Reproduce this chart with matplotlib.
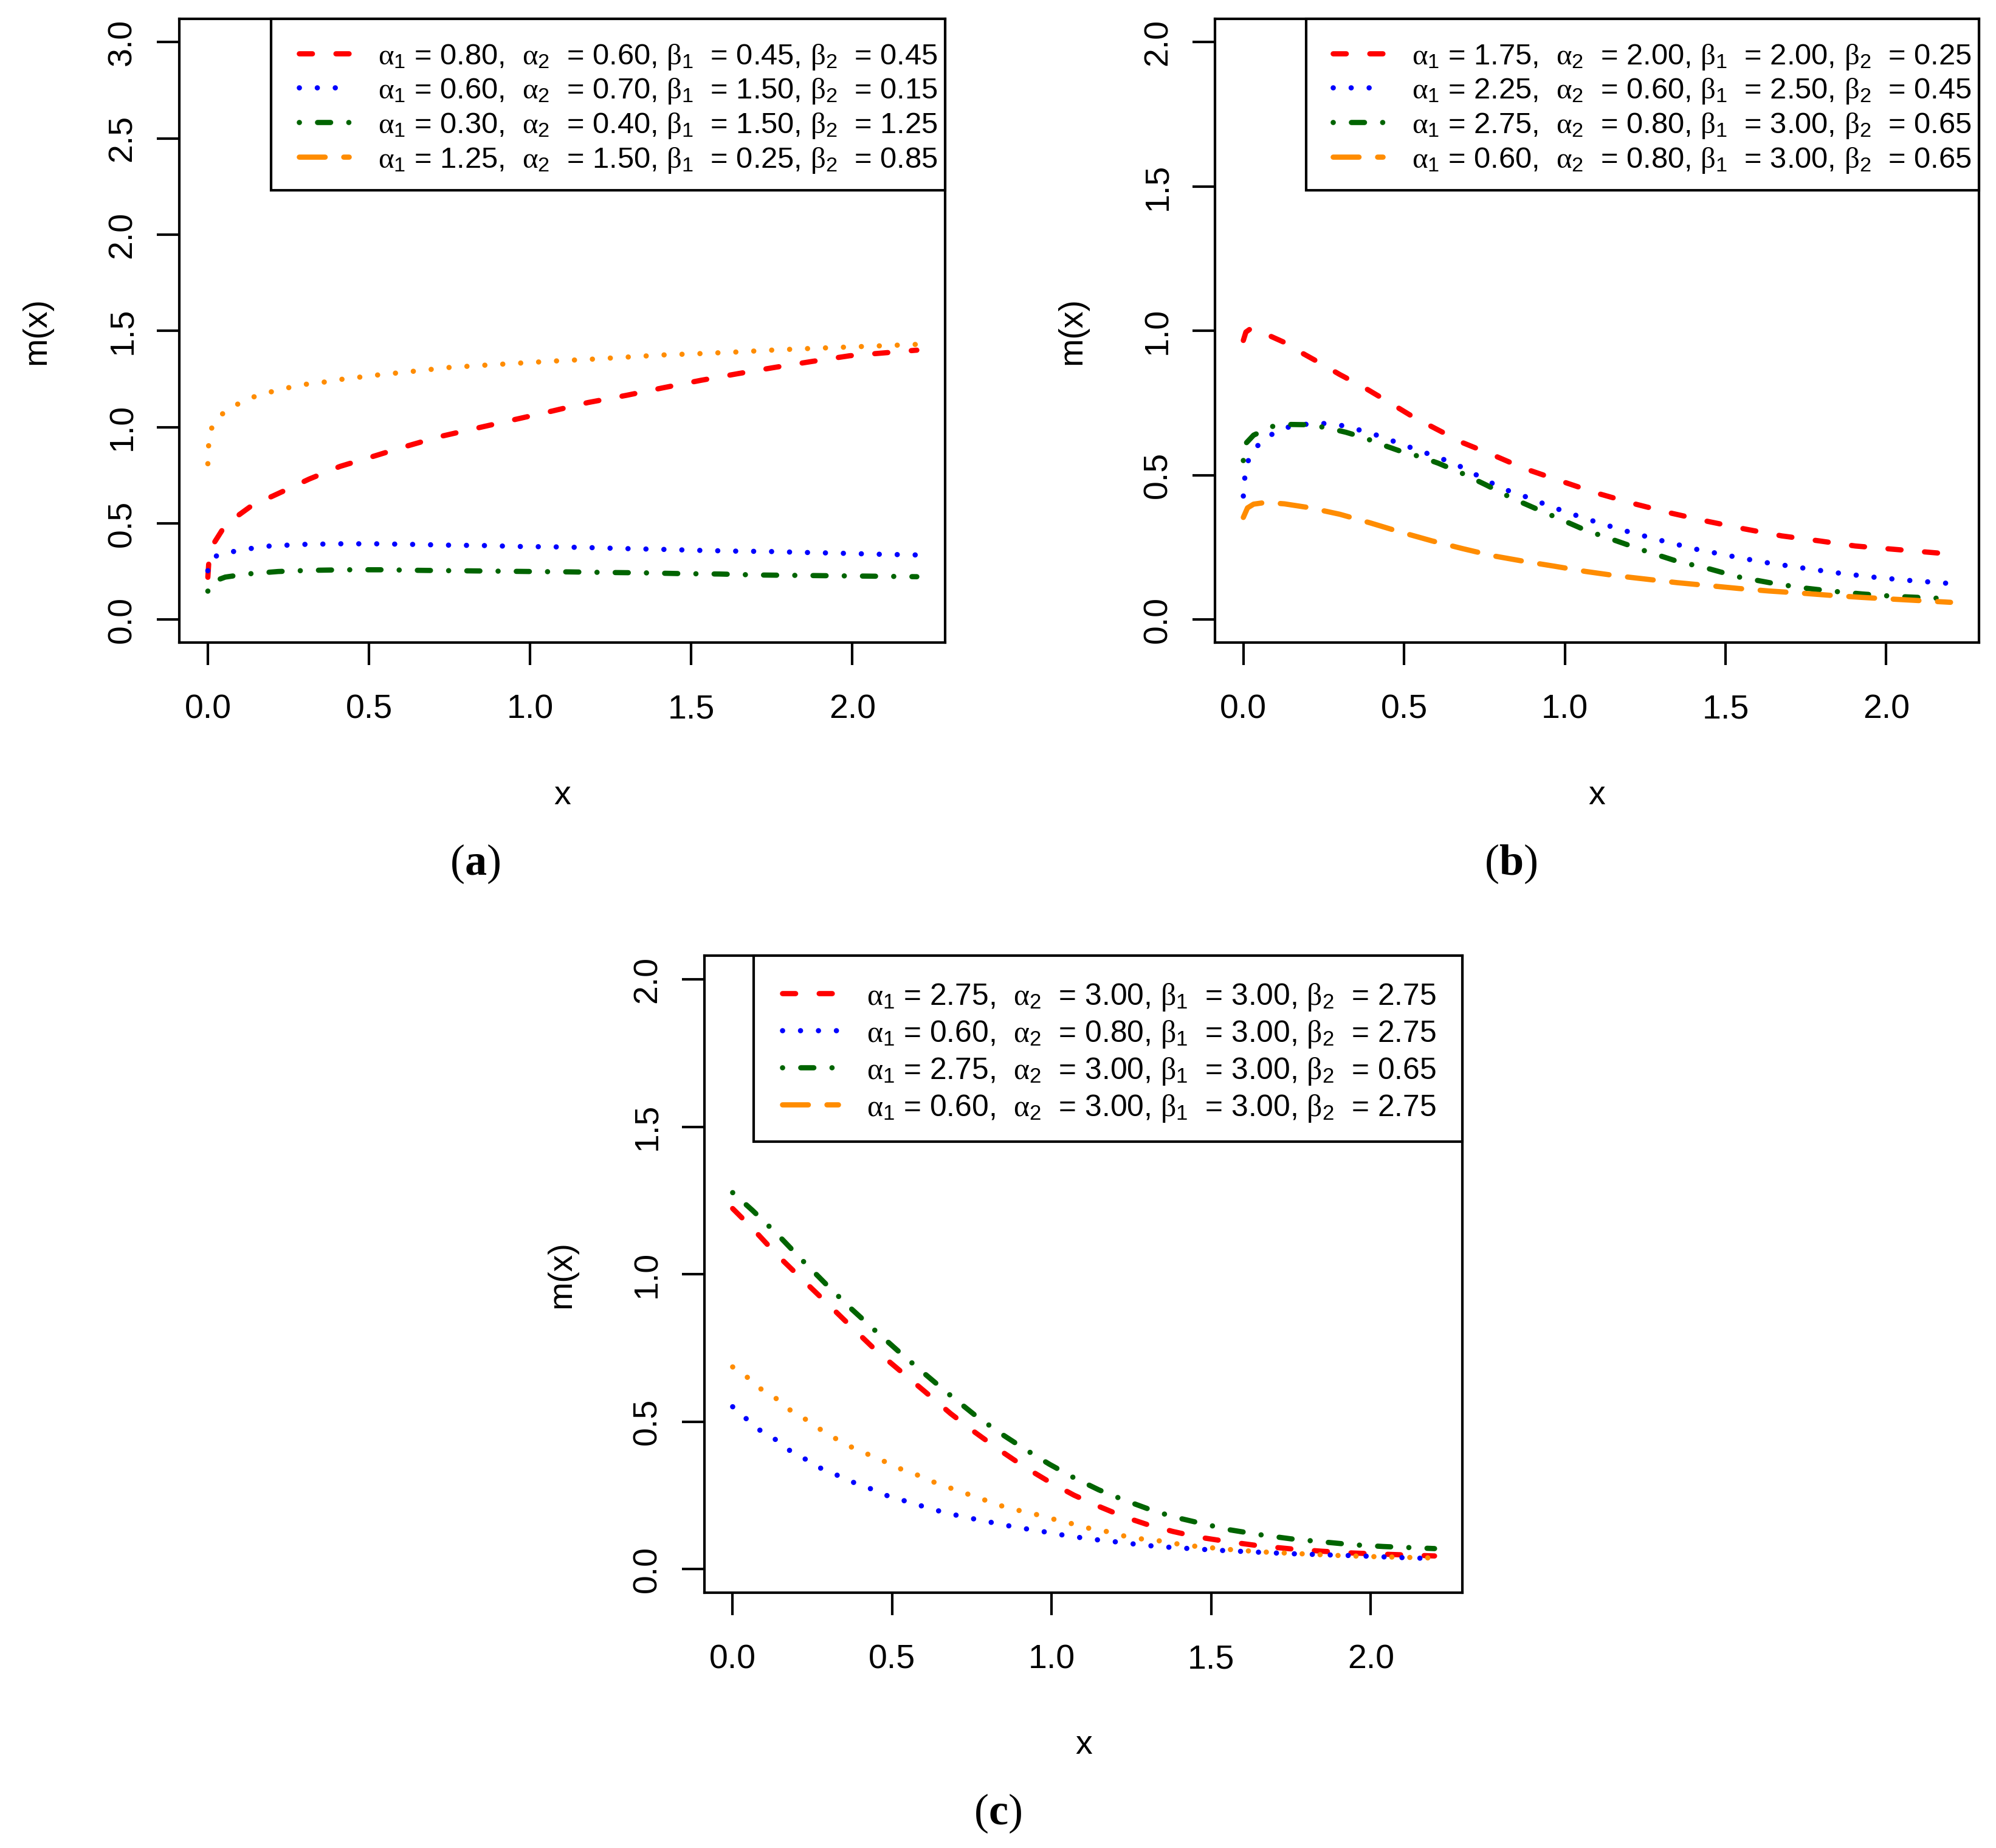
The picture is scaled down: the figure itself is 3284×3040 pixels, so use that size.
import matplotlib
matplotlib.use("Agg")
import matplotlib.pyplot as plt
from matplotlib.lines import Line2D
from matplotlib.patches import Rectangle

plt.rcParams['font.family'] = ['Liberation Sans', 'DejaVu Sans']
plt.rcParams['mathtext.fontset'] = 'custom'
plt.rcParams['mathtext.rm'] = 'Liberation Sans'
plt.rcParams['mathtext.it'] = 'Liberation Serif'
plt.rcParams['mathtext.bf'] = 'Liberation Serif:bold'

# ---------------- data ----------------
# panel (a)
a_red_x = [0, 0.003, 0.015, 0.044, 0.093, 0.14, 0.2, 0.257, 0.314, 0.41, 0.507, 0.604, 0.72, 0.835,
           0.951, 1.067, 1.18, 1.298, 1.414, 1.529, 1.645, 1.761, 1.877, 1.992, 2.2]
a_red_y = [0.22, 0.30, 0.387, 0.464, 0.54, 0.597, 0.641, 0.685, 0.73, 0.796, 0.845, 0.895, 0.951, 0.995,
           1.039, 1.083, 1.128, 1.165, 1.205, 1.243, 1.278, 1.311, 1.342, 1.371, 1.40]
a_blue_x = [0, 0.005, 0.015, 0.04, 0.08, 0.135, 0.19, 0.247, 0.3, 0.41, 0.52, 0.633, 0.744, 0.854, 0.966,
            1.076, 1.188, 1.298, 1.41, 1.52, 1.632, 1.742, 1.853, 1.963, 2.073, 2.2]
a_blue_y = [0.254, 0.29, 0.32, 0.343, 0.354, 0.37, 0.382, 0.387, 0.391, 0.394, 0.394, 0.391, 0.387, 0.385,
            0.38, 0.378, 0.374, 0.369, 0.365, 0.36, 0.356, 0.354, 0.349, 0.345, 0.34, 0.336]
a_green_x = [0, 0.02, 0.054, 0.12, 0.218, 0.314, 0.43, 0.546, 0.66, 0.777, 0.893, 1.0, 1.124, 1.24, 1.356,
             1.47, 1.587, 1.703, 1.82, 1.934, 2.05, 2.2]
a_green_y = [0.148, 0.2, 0.221, 0.237, 0.25, 0.256, 0.259, 0.259, 0.256, 0.254, 0.252, 0.25, 0.248, 0.245,
             0.243, 0.239, 0.237, 0.232, 0.23, 0.228, 0.226, 0.223]
a_orange_x = [0, 0.002, 0.012, 0.046, 0.093, 0.14, 0.195, 0.25, 0.305, 0.36, 0.417, 0.527, 0.636, 0.748,
              0.86, 0.97, 1.08, 1.19, 1.30, 1.41, 1.525, 1.635, 1.747, 1.857, 1.967, 2.08, 2.2]
a_orange_y = [0.81, 0.90, 0.995, 1.07, 1.12, 1.156, 1.183, 1.205, 1.223, 1.234, 1.249, 1.271, 1.29, 1.31,
              1.322, 1.333, 1.344, 1.353, 1.364, 1.375, 1.382, 1.39, 1.40, 1.408, 1.415, 1.422, 1.43]

# panel (b)
b_red_x = [0, 0.008, 0.023, 0.07, 0.128, 0.185, 0.243, 0.3, 0.376, 0.453, 0.53, 0.606, 0.682, 0.777, 0.873,
           0.988, 1.1, 1.217, 1.33, 1.446, 1.56, 1.675, 1.79, 1.904, 2.02, 2.2]
b_red_y = [0.967, 0.996, 1.008, 0.989, 0.96, 0.922, 0.886, 0.849, 0.804, 0.753, 0.701, 0.657, 0.613, 0.57,
           0.524, 0.48, 0.438, 0.401, 0.369, 0.34, 0.314, 0.29, 0.273, 0.255, 0.244, 0.227]
b_blue_x = [0, 0.004, 0.013, 0.042, 0.084, 0.132, 0.187, 0.243, 0.296, 0.351, 0.407, 0.462, 0.516, 0.571,
            0.625, 0.682, 0.76, 0.816, 0.873, 0.968, 1.064, 1.18, 1.293, 1.408, 1.513, 1.618, 1.733, 1.847,
            1.952, 2.057, 2.2]
b_blue_y = [0.428, 0.487, 0.546, 0.6, 0.639, 0.665, 0.676, 0.68, 0.675, 0.66, 0.642, 0.62, 0.598, 0.576,
            0.554, 0.527, 0.48, 0.45, 0.428, 0.387, 0.35, 0.31, 0.276, 0.244, 0.221, 0.199, 0.18, 0.162,
            0.148, 0.137, 0.125]
b_green_x = [0, 0.01, 0.032, 0.09, 0.147, 0.204, 0.262, 0.319, 0.376, 0.434, 0.49, 0.548, 0.606, 0.682,
             0.758, 0.835, 0.911, 0.988, 1.064, 1.16, 1.255, 1.35, 1.446, 1.54, 1.637, 1.733, 1.828, 1.924,
             2.02, 2.2]
b_green_y = [0.551, 0.613, 0.639, 0.669, 0.676, 0.675, 0.664, 0.649, 0.63, 0.605, 0.583, 0.565, 0.542,
             0.506, 0.465, 0.421, 0.384, 0.347, 0.31, 0.273, 0.236, 0.202, 0.177, 0.148, 0.128, 0.111,
             0.099, 0.089, 0.081, 0.072]
b_orange_x = [0, 0.013, 0.032, 0.07, 0.128, 0.204, 0.3, 0.395, 0.49, 0.586, 0.682, 0.777, 0.873, 0.968,
              1.064, 1.16, 1.255, 1.35, 1.446, 1.54, 1.637, 1.733, 1.828, 1.924, 2.02, 2.2]
b_orange_y = [0.354, 0.387, 0.4, 0.406, 0.401, 0.388, 0.365, 0.335, 0.303, 0.273, 0.246, 0.221, 0.202,
              0.185, 0.167, 0.152, 0.14, 0.128, 0.118, 0.108, 0.099, 0.092, 0.084, 0.077, 0.071, 0.06]

# panel (c)
c_red_x = [0, 0.062, 0.14, 0.217, 0.295, 0.372, 0.45, 0.528, 0.605, 0.683, 0.76, 0.838, 0.916, 0.993, 1.07,
           1.148, 1.226, 1.304, 1.38, 1.459, 1.556, 1.653, 1.75, 1.847, 1.944, 2.04, 2.2]
c_red_y = [1.223, 1.156, 1.065, 0.984, 0.903, 0.822, 0.741, 0.67, 0.6, 0.528, 0.464, 0.403, 0.346, 0.296,
           0.251, 0.213, 0.178, 0.15, 0.128, 0.109, 0.093, 0.079, 0.069, 0.061, 0.055, 0.051, 0.045]
c_blue_x = [0, 0.043, 0.087, 0.134, 0.182, 0.23, 0.28, 0.334, 0.386, 0.44, 0.494, 0.549, 0.603, 0.658,
            0.714, 0.768, 0.824, 0.88, 0.937, 0.993, 1.05, 1.106, 1.162, 1.218, 1.276, 1.333, 1.39, 1.507,
            1.624, 1.74, 1.856, 1.973, 2.08, 2.2]
c_blue_y = [0.551, 0.51, 0.47, 0.44, 0.4, 0.372, 0.34, 0.316, 0.291, 0.27, 0.245, 0.229, 0.211, 0.194,
            0.18, 0.168, 0.156, 0.144, 0.134, 0.124, 0.113, 0.105, 0.097, 0.091, 0.083, 0.077, 0.073,
            0.065, 0.059, 0.053, 0.049, 0.045, 0.04, 0.036]
c_green_x = [0, 0.062, 0.14, 0.217, 0.295, 0.372, 0.45, 0.528, 0.605, 0.683, 0.76, 0.838, 0.916, 0.993,
             1.07, 1.148, 1.226, 1.304, 1.38, 1.459, 1.556, 1.653, 1.75, 1.847, 1.944, 2.04, 2.2]
c_green_y = [1.277, 1.217, 1.136, 1.049, 0.964, 0.883, 0.806, 0.731, 0.66, 0.589, 0.522, 0.462, 0.407,
             0.356, 0.31, 0.269, 0.235, 0.204, 0.178, 0.158, 0.134, 0.117, 0.103, 0.093, 0.083, 0.077, 0.07]
c_orange_x = [0, 0.047, 0.091, 0.136, 0.182, 0.229, 0.275, 0.326, 0.378, 0.43, 0.483, 0.535, 0.588, 0.64,
              0.694, 0.747, 0.8, 0.853, 0.906, 0.958, 1.012, 1.065, 1.12, 1.172, 1.226, 1.28, 1.333,
              1.387, 1.44, 1.556, 1.653, 1.77, 1.886, 2.0, 2.2]
c_orange_y = [0.686, 0.65, 0.609, 0.579, 0.538, 0.508, 0.474, 0.441, 0.411, 0.387, 0.362, 0.336, 0.316,
              0.291, 0.271, 0.251, 0.231, 0.211, 0.197, 0.184, 0.168, 0.154, 0.138, 0.128, 0.113, 0.103,
              0.097, 0.087, 0.079, 0.067, 0.059, 0.053, 0.047, 0.043, 0.038]

# legend parameters (alpha1, alpha2, beta1, beta2)
a_params = [(0.80, 0.60, 0.45, 0.45), (0.60, 0.70, 1.50, 0.15), (0.30, 0.40, 1.50, 1.25), (1.25, 1.50, 0.25, 0.85)]
b_params = [(1.75, 2.00, 2.00, 0.25), (2.25, 0.60, 2.50, 0.45), (2.75, 0.80, 3.00, 0.65), (0.60, 0.80, 3.00, 0.65)]
c_params = [(2.75, 3.00, 3.00, 2.75), (0.60, 0.80, 3.00, 2.75), (2.75, 3.00, 3.00, 0.65), (0.60, 3.00, 3.00, 2.75)]

x_ticks = [0.0, 0.5, 1.0, 1.5, 2.0]
a_yticks = [0.0, 0.5, 1.0, 1.5, 2.0, 2.5, 3.0]
bc_yticks = [0.0, 0.5, 1.0, 1.5, 2.0]
captions = ["a", "b", "c"]

# ---------------- styling ----------------
RED, BLUE, GREEN, ORANGE = "#FF0000", "#0000FF", "#006400", "#FF8C00"
DASHED = (0, (2.5, 4.5))
DOTTED = (0, (0.01, 3.42))
DOTDASH = (0, (0.01, 3.47, 2.5, 3.47))
LONGDASH = (0, (4.93, 3.56))
LW = 3.1

legend_styles = [(RED, DASHED), (BLUE, DOTTED), (GREEN, DOTDASH), (ORANGE, LONGDASH)]

fig = plt.figure(figsize=(16.42, 15.20), dpi=200)
W, H = 1568.0, 1452.0   # reference layout units


def axes_box(l, r, t, b):
    return [l / W, 1 - b / H, (r - l) / W, (b - t) / H]


boxes = {'a': (141, 742.5, 15, 505), 'b': (954.5, 1554.5, 15, 505), 'c': (553.5, 1149, 751, 1251.5)}
ax_a = fig.add_axes(axes_box(*boxes['a']))
ax_b = fig.add_axes(axes_box(*boxes['b']))
ax_c = fig.add_axes(axes_box(*boxes['c']))


def label_for(p):
    return (r"$\alpha_1$ = %.2f,  $\alpha_2$  = %.2f, $\beta_1$  = %.2f, $\beta_2$  = %.2f" % p)


def setup(ax, key, series, yticks, ymax, params, leg):
    l, r, t, b = boxes[key]
    fx = lambda px: (px - l) / (r - l)
    fy = lambda py: (b - py) / (b - t)
    for (xs, ys, col, ls) in series:
        ax.plot(xs, ys, color=col, linestyle=ls, linewidth=LW,
                dash_capstyle='round', solid_capstyle='round')
    ax.set_xlim(-0.088, 2.288)
    ext = ymax * 0.04
    ax.set_ylim(-ext, ymax + ext)
    ax.set_xticks(x_ticks)
    ax.set_xticklabels(["%.1f" % v for v in x_ticks])
    ax.set_yticks(yticks)
    ax.set_yticklabels(["%.1f" % v for v in yticks])
    ax.tick_params(axis='both', direction='out', length=13.3, width=1.5, labelsize=20)
    ax.tick_params(axis='x', pad=17)
    ax.tick_params(axis='y', pad=11, labelrotation=90)
    for lab in ax.get_yticklabels():
        lab.set_va('center')
    for s in ax.spines.values():
        s.set_linewidth(1.5)
    ax.set_xlabel("x", fontsize=20)
    ax.set_ylabel("m(x)", fontsize=20)
    ax.xaxis.set_label_coords(0.5, fy(b + 120))
    ax.xaxis.label.set_va('center')
    ax.yaxis.set_label_coords(fx(l - 112), 0.5)
    ax.yaxis.label.set_va('center')

    # legend (R style: box in the top-right corner)
    box_l, box_b, h0, hlen, txt0, rows, fs = leg
    ax.add_patch(Rectangle((fx(box_l), fy(box_b)), 1 - fx(box_l), 1 - fy(box_b),
                           transform=ax.transAxes, facecolor='white', edgecolor='black',
                           linewidth=1.5, zorder=4, clip_on=False))
    for (col, ls), p, ry in zip(legend_styles, params, rows):
        ax.add_line(Line2D([fx(h0), fx(h0 + hlen)], [fy(ry), fy(ry)], transform=ax.transAxes,
                           color=col, linestyle=ls, linewidth=LW, dash_capstyle='round',
                           solid_capstyle='round', zorder=5, clip_on=False))
        ax.text(fx(txt0), fy(ry), label_for(p), transform=ax.transAxes, fontsize=fs,
                ha='left', va='center_baseline', zorder=6)


setup(ax_a, 'a', [(a_red_x, a_red_y, RED, DASHED), (a_blue_x, a_blue_y, BLUE, DOTTED),
                  (a_green_x, a_green_y, GREEN, DOTDASH), (a_orange_x, a_orange_y, ORANGE, DOTTED)],
      a_yticks, 3.0, a_params,
      (213, 149.5, 235.1, 39.0, 297, [42.2, 68.9, 96.0, 123.0], 17.6))
setup(ax_b, 'b', [(b_red_x, b_red_y, RED, DASHED), (b_blue_x, b_blue_y, BLUE, DOTTED),
                  (b_green_x, b_green_y, GREEN, DOTDASH), (b_orange_x, b_orange_y, ORANGE, LONGDASH)],
      bc_yticks, 2.0, b_params,
      (1026, 149.5, 1047.1, 39.0, 1109, [42.2, 68.9, 96.0, 123.0], 17.6))
setup(ax_c, 'c', [(c_red_x, c_red_y, RED, DASHED), (c_blue_x, c_blue_y, BLUE, DOTTED),
                  (c_green_x, c_green_y, GREEN, DOTDASH), (c_orange_x, c_orange_y, ORANGE, DOTTED)],
      bc_yticks, 2.0, c_params,
      (592, 897, 614.7, 43.5, 681, [780.3, 809.4, 838.6, 867.7], 17.9))

cap_pos = [(373, 679), (1187, 679), (784, 1425)]
for (px, py), letter in zip(cap_pos, captions):
    fig.text(px / W, 1 - py / H, "(" + r"$\mathbf{%s}$" % letter + ")", fontsize=26,
             family='Liberation Serif', ha='center', va='center')

fig.savefig("out.png", dpi=200)
